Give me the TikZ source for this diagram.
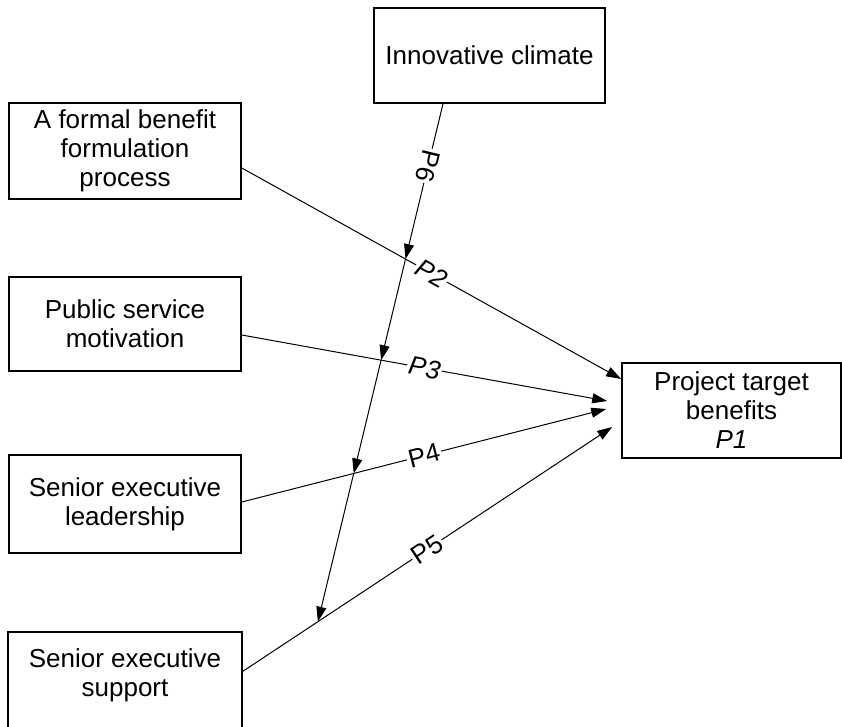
\documentclass[tikz,border=0pt]{standalone}
\usepackage{fontspec}
\setmainfont{Liberation Sans}
\usetikzlibrary{arrows.meta,calc}
\begin{document}
\begin{tikzpicture}[x=1pt,y=-1pt,
  box/.style={draw,line width=1.6pt,align=center,inner sep=0pt,font=\fontsize{26}{29}\selectfont},
  conn/.style={line width=1pt,-{Triangle[length=15pt,width=10pt]}},
  plabel/.style={fill=white,inner sep=1.5pt,font=\fontsize{26}{29}\selectfont,sloped}]
\useasboundingbox (0,0) rectangle (842,727);
\node[box,minimum width=231,minimum height=95] (climate) at (489.5,55.5) {Innovative climate};
\node[box,minimum width=232,minimum height=96] (form) at (125,151) {A formal benefit\\formulation\\process};
\node[box,minimum width=232,minimum height=94] (public) at (125,324) {Public service\\motivation};
\node[box,minimum width=232,minimum height=98] (leader) at (125,504) {Senior executive\\leadership};
\node[box,draw=none,minimum width=232,minimum height=84] (support) at (125,675) {Senior executive\\support};
\draw[line width=1.6pt] ($(support.north west)+(0,120)$) -- (support.north west) -- (support.north east) -- ($(support.north east)+(0,120)$);
\node[box,minimum width=219,minimum height=95] (project) at (731.5,410.5) {Project target\\benefits\\\textit{P1}};
% connector end points
\coordinate (s2) at ($(form.east)+(0,17)$);
\coordinate (t2) at ($(project.west)+(0,-31.5)$);
\coordinate (s3) at ($(public.east)+(0,11)$);
\coordinate (t3) at ($(project.west)+(-14,-9.5)$);
\coordinate (s4) at ($(leader.east)+(0,-2)$);
\coordinate (t4) at ($(project.west)+(-15,-1.5)$);
\coordinate (s5) at ($(support.east)+(0,-3)$);
\coordinate (t5) at ($(project.west)+(-9,16.5)$);
\coordinate (s6) at ($(climate.south)+(-46.5,0)$);
\coordinate (d6) at (298.2,703);
\coordinate (x2) at (intersection of s6--d6 and s2--t2);
\coordinate (x3) at (intersection of s6--d6 and s3--t3);
\coordinate (x4) at (intersection of s6--d6 and s4--t4);
\coordinate (x5) at (intersection of s6--d6 and s5--t5);
% connectors
\draw[conn] (s2) -- node[plabel]{\textit{P2}} (t2);
\draw[conn] (s3) -- node[plabel]{\textit{P3}} (t3);
\draw[conn] (s4) -- node[plabel]{P4} (t4);
\draw[conn] (s5) -- node[plabel]{P5} (t5);
\draw[conn] (s6) -- node[plabel,pos=0.4,allow upside down]{P6} (x2);
\draw[conn] (x2) -- (x3);
\draw[conn] (x3) -- (x4);
\draw[conn] (x4) -- (x5);
\end{tikzpicture}
\end{document}
